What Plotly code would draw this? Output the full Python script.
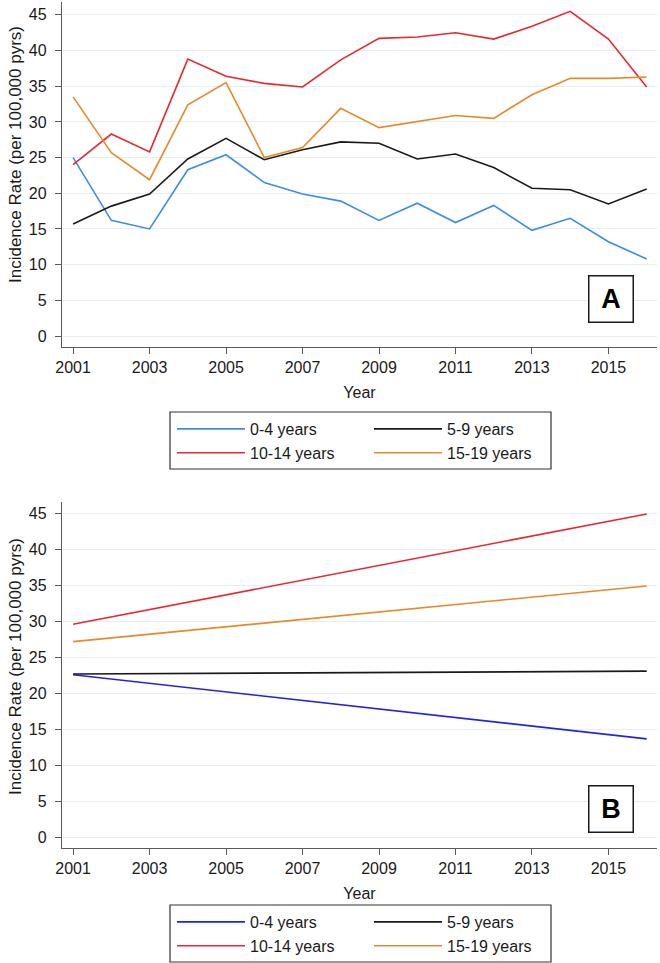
import plotly.graph_objects as go

years = list(range(2001, 2017))
groups = ["0-4 years", "5-9 years", "10-14 years", "15-19 years"]

# Panel A: observed incidence rates
rate_0_4 = [25.0, 16.2, 15.0, 23.3, 25.4, 21.5, 19.9, 18.9, 16.2, 18.6, 15.9, 18.3, 14.8, 16.5, 13.2, 10.8]
rate_5_9 = [15.7, 18.2, 19.9, 24.8, 27.7, 24.7, 26.1, 27.2, 27.0, 24.8, 25.5, 23.6, 20.7, 20.5, 18.5, 20.6]
rate_10_14 = [24.0, 28.3, 25.8, 38.8, 36.4, 35.4, 34.9, 38.7, 41.7, 41.9, 42.5, 41.6, 43.4, 45.5, 41.6, 34.9]
rate_15_19 = [33.5, 25.7, 21.9, 32.4, 35.5, 25.0, 26.4, 31.9, 29.2, 30.1, 30.9, 30.5, 33.8, 36.1, 36.1, 36.3]

# Panel B: fitted linear trends (start and end years)
trend_years = [2001, 2016]
trend_0_4 = [22.6, 13.7]
trend_5_9 = [22.7, 23.1]
trend_10_14 = [29.6, 44.9]
trend_15_19 = [27.2, 34.9]

colors_a = ["#3a8ee6", "#1a1a1a", "#e8282e", "#e48a2a"]
colors_b = ["#2222e0", "#1a1a1a", "#e8282e", "#e48a2a"]

FONT = "Liberation Sans, Arial, sans-serif"
W, H = 660, 963
ML, MR = 62, 3
PW = W - ML - MR

def py(pix):
    return 1 - pix / H

def px(pix):
    return (pix - ML) / PW

fig = go.Figure()

# column legends: left column holds 0-4 & 10-14, right column 5-9 & 15-19
col_of = [0, 1, 0, 1]
legends_a = ["legend", "legend3"]
legends_b = ["legend2", "legend4"]

series_a = [rate_0_4, rate_5_9, rate_10_14, rate_15_19]
for i, (name, vals, col) in enumerate(zip(groups, series_a, colors_a)):
    fig.add_trace(go.Scatter(x=years, y=vals, mode="lines", name=name,
                             line=dict(color=col, width=1.6),
                             xaxis="x", yaxis="y", legend=legends_a[col_of[i]]))

series_b = [trend_0_4, trend_5_9, trend_10_14, trend_15_19]
for i, (name, vals, col) in enumerate(zip(groups, series_b, colors_b)):
    fig.add_trace(go.Scatter(x=trend_years, y=vals, mode="lines", name=name,
                             line=dict(color=col, width=1.6),
                             xaxis="x2", yaxis="y2", legend=legends_b[col_of[i]]))

axis_col = "#5a5a5a"
grid_col = "#e4edf0"
xcommon = dict(range=[2000.71, 2016.27], tickvals=list(range(2001, 2016, 2)),
               ticks="outside", ticklen=6, tickwidth=1.2, tickcolor=axis_col,
               showline=True, linecolor=axis_col, linewidth=1.3, showgrid=False,
               zeroline=False,
               tickfont=dict(size=16, color="#1a1a1a", family=FONT),
               title=dict(text="Year", font=dict(size=16, color="#1a1a1a", family=FONT), standoff=11))
ycommon = dict(tickvals=list(range(0, 50, 5)), ticks="outside", ticklen=6, tickwidth=1.2,
               tickcolor=axis_col, showline=True, linecolor=axis_col, linewidth=1.3,
               showgrid=True, gridcolor=grid_col, gridwidth=1, zeroline=False,
               ticklabelstandoff=5,
               tickfont=dict(size=16, color="#1a1a1a", family=FONT))

def col_legend(xpix, ytop):
    return dict(orientation="v", x=px(xpix), xanchor="left", y=py(ytop), yanchor="top",
                borderwidth=0, bgcolor="rgba(0,0,0,0)", itemwidth=68,
                font=dict(size=16, family=FONT, color="#1a1a1a"), traceorder="normal")

fig.update_layout(
    width=W, height=H,
    margin=dict(l=ML, r=MR, t=0, b=0, autoexpand=False),
    paper_bgcolor="white", plot_bgcolor="white",
    font=dict(family=FONT, size=16, color="#1a1a1a"),
    xaxis=dict(domain=[0, 1], anchor="y", **xcommon),
    yaxis=dict(domain=[py(347), py(2)], anchor="x", range=[-1.54, 46.8], **ycommon),
    xaxis2=dict(domain=[0, 1], anchor="y2", **xcommon),
    yaxis2=dict(domain=[py(848), py(502)], anchor="x2", range=[-1.43, 46.56], **ycommon),
    legend=col_legend(172, 412),
    legend3=col_legend(369, 412),
    legend2=col_legend(172, 905),
    legend4=col_legend(369, 905),
    showlegend=True,
)

# legend frames
for top, bot in ((412, 469), (905, 962)):
    fig.add_shape(type="rect", xref="paper", yref="paper",
                  x0=px(170), x1=px(551), y0=py(bot), y1=py(top),
                  line=dict(color="#333333", width=1.2), fillcolor="rgba(0,0,0,0)")

ytitle = "Incidence Rate (per 100,000 pyrs)"
for yc in (155, 667):
    fig.add_annotation(text=ytitle, xref="paper", yref="paper", x=px(15), y=py(yc),
                       xanchor="center", yanchor="middle", textangle=-90, showarrow=False,
                       font=dict(size=17, family=FONT, color="#1a1a1a"))

for lab, yc in (("A", 299), ("B", 809)):
    fig.add_annotation(text="<b>" + lab + "</b>", xref="paper", yref="paper",
                       x=px(610.5), y=py(yc), xanchor="center", yanchor="middle",
                       showarrow=False, width=41, height=43, borderpad=1,
                       bordercolor="#1a1a1a", borderwidth=1.5, bgcolor="white",
                       font=dict(size=27, family=FONT, color="#000000"))

fig.write_html("out.html", config={"displayModeBar": False},
               post_script="document.body.style.margin='0px';document.body.style.overflow='hidden';")
